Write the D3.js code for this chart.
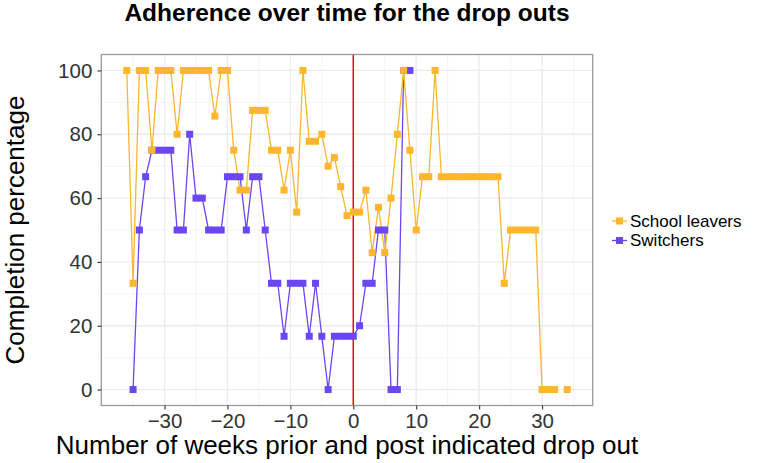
<!DOCTYPE html>
<html>
<head>
<meta charset="utf-8">
<script src="https://cdn.jsdelivr.net/npm/d3@7"></script>
<style>
  body { margin: 0; background: #fff; }
  svg { font-family: "Liberation Sans", Arial, sans-serif; }
</style>
</head>
<body>
<div class="chart"></div>
<script>
// weeks relative to drop out, and completion percentage for each group
const leaverWeeks = d3.range(-36, 35);
const leaverValues = [
  100, 33.3, 100, 100, 75, 100, 100, 100, 80, 100,      // -36 .. -27
  100, 100, 100, 100, 85.7, 100, 100, 75, 62.5, 62.5,    // -26 .. -17
  87.5, 87.5, 87.5, 75, 75, 62.5, 75, 55.6, 100, 77.8,   // -16 .. -7
  77.8, 80, 70, 72.7, 63.6, 54.5, 55.6, 55.6, 62.5, 42.9, // -6 .. 3
  57.1, 42.9, 60, 80, 100, 75, 50, 66.7, 66.7, 100,      // 4 .. 13
  66.7, 66.7, 66.7, 66.7, 66.7, 66.7, 66.7, 66.7, 66.7, 66.7, // 14 .. 23
  33.3, 50, 50, 50, 50, 50, 0, 0, 0, null, 0             // 24 .. 34
];

const switcherWeeks = d3.range(-35, 10);
const switcherValues = [
  0, 50, 66.7, 75, 75, 75, 75, 50, 50, 80,               // -35 .. -26
  60, 60, 50, 50, 50, 66.7, 66.7, 66.7, 50, 66.7,        // -25 .. -16
  66.7, 50, 33.3, 33.3, 16.7, 33.3, 33.3, 33.3, 16.7, 33.3, // -15 .. -6
  16.7, 0, 16.7, 16.7, 16.7, 16.7, 20, 33.3, 33.3, 50,   // -5 .. 4
  50, 0, 0, 100, 100                                     // 5 .. 9
];

const seriesNames = ['School leavers', 'Switchers'];
const seriesColors = ['#FDB62E', '#6C46F2'];
const xTicks = [-30, -20, -10, 0, 10, 20, 30];
const yTicks = [0, 20, 40, 60, 80, 100];

const W = 765, H = 463;
const margin = ({top: 54.5, right: 172.3, bottom: 57.5, left: 101.3});
const width = W - margin.left - margin.right;
const height = H - margin.top - margin.bottom;

const svg = d3.select('.chart')
  .append('svg')
  .attr('width', W)
  .attr('height', H);

const g = svg.append('g')
  .attr('transform', 'translate(' + margin.left + ',' + margin.top + ')');

const xScale = d3.scaleLinear().domain([-40.05, 38.05]).range([0, width]);
const yScale = d3.scaleLinear().domain([-5, 105]).range([height, 0]);

// grid lines, minor then major
const xMinor = d3.range(-35, 40, 10);
const yMinor = d3.range(10, 100, 20);

g.selectAll('.xminor').data(xMinor).enter().append('line')
  .attr('x1', d => xScale(d)).attr('x2', d => xScale(d))
  .attr('y1', 0).attr('y2', height)
  .attr('stroke', '#F2F2F2').attr('stroke-width', 0.8);
g.selectAll('.yminor').data(yMinor).enter().append('line')
  .attr('y1', d => yScale(d)).attr('y2', d => yScale(d))
  .attr('x1', 0).attr('x2', width)
  .attr('stroke', '#F2F2F2').attr('stroke-width', 0.8);
g.selectAll('.xmajor').data(xTicks).enter().append('line')
  .attr('x1', d => xScale(d)).attr('x2', d => xScale(d))
  .attr('y1', 0).attr('y2', height)
  .attr('stroke', '#EBEBEB').attr('stroke-width', 1.3);
g.selectAll('.ymajor').data(yTicks).enter().append('line')
  .attr('y1', d => yScale(d)).attr('y2', d => yScale(d))
  .attr('x1', 0).attr('x2', width)
  .attr('stroke', '#EBEBEB').attr('stroke-width', 1.3);

// red line at the drop out
g.append('line')
  .attr('x1', xScale(0)).attr('x2', xScale(0))
  .attr('y1', 0).attr('y2', height)
  .attr('stroke', '#FF0000').attr('stroke-width', 1.5);

const series = [
  {name: seriesNames[0], color: seriesColors[0],
   data: leaverWeeks.map((w, i) => ({week: w, value: leaverValues[i]}))},
  {name: seriesNames[1], color: seriesColors[1],
   data: switcherWeeks.map((w, i) => ({week: w, value: switcherValues[i]}))}
];

const line = d3.line()
  .defined(d => d.value != null)
  .x(d => xScale(d.week))
  .y(d => yScale(d.value));

// lines first, then squares (switchers underneath school leavers)
const drawOrder = [series[1], series[0]];
drawOrder.forEach(s => {
  g.append('path')
    .datum(s.data)
    .attr('d', line)
    .attr('fill', 'none')
    .attr('stroke', s.color)
    .attr('stroke-width', 1.3);
});
const sq = 7;
drawOrder.forEach(s => {
  g.append('g').selectAll('rect')
    .data(s.data.filter(d => d.value != null))
    .enter()
    .append('rect')
    .attr('x', d => xScale(d.week) - sq / 2)
    .attr('y', d => yScale(d.value) - sq / 2)
    .attr('width', sq)
    .attr('height', sq)
    .attr('fill', s.color);
});

// panel border
g.append('rect')
  .attr('width', width).attr('height', height)
  .attr('fill', 'none').attr('stroke', '#9A9A9A').attr('stroke-width', 1.3);

// axes
const xAxis = d3.axisBottom(xScale).tickValues(xTicks).tickSize(4).tickPadding(4);
const yAxis = d3.axisLeft(yScale).tickValues(yTicks).tickSize(4).tickPadding(5);

const gx = g.append('g')
  .attr('transform', `translate(0, ${height})`)
  .call(xAxis);
const gy = g.append('g').call(yAxis);

[gx, gy].forEach(a => {
  a.select('.domain').remove();
  a.selectAll('line').attr('stroke', '#333').attr('stroke-width', 1.1);
  a.selectAll('text')
    .attr('fill', '#333')
    .attr('font-size', 20.5)
    .attr('font-family', '"Liberation Sans", Arial, sans-serif');
});

// titles
svg.append('text')
  .attr('x', margin.left + width / 2)
  .attr('y', 21)
  .attr('text-anchor', 'middle')
  .attr('font-size', 24.5)
  .attr('font-weight', 'bold')
  .text('Adherence over time for the drop outs');

svg.append('text')
  .attr('x', margin.left + width / 2)
  .attr('y', 454)
  .attr('text-anchor', 'middle')
  .attr('font-size', 26)
  .text('Number of weeks prior and post indicated drop out');

svg.append('text')
  .attr('transform', `translate(23.5, ${margin.top + height / 2}) rotate(-90)`)
  .attr('text-anchor', 'middle')
  .attr('font-size', 26)
  .text('Completion percentage');

// legend
const legend = svg.append('g').attr('transform', 'translate(612, 221)');
series.forEach((s, i) => {
  const row = legend.append('g').attr('transform', `translate(0, ${i * 19.5})`);
  row.append('line')
    .attr('x1', 0).attr('x2', 15)
    .attr('stroke', s.color).attr('stroke-width', 1.3);
  row.append('rect')
    .attr('x', 4).attr('y', -3.5)
    .attr('width', 7).attr('height', 7)
    .attr('fill', s.color);
  row.append('text')
    .attr('x', 18)
    .attr('dy', '0.35em')
    .attr('font-size', 17)
    .text(s.name);
});
</script>
</body>
</html>
